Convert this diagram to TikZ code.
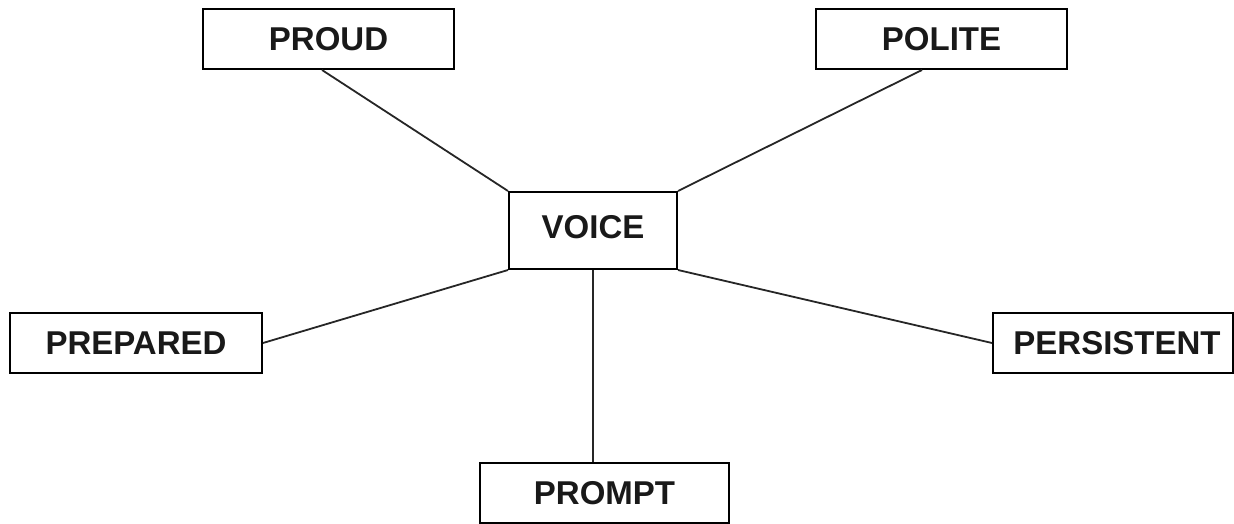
\documentclass[tikz,border=0pt]{standalone}
\usepackage{fontspec}
\setmainfont{Liberation Sans}
\begin{document}
\begin{tikzpicture}[x=1pt,y=-1pt,
  wbox/.style={draw=black, line width=2pt, rectangle, inner sep=0pt, minimum height=60pt,
    font=\fontsize{33}{36}\selectfont\bfseries, text=black!90},
  link/.style={draw=black!85, line width=1.8pt}]
\useasboundingbox (0,0) rectangle (1234,524);
\node[wbox, minimum width=251pt] (proud) at (328.5,39) {PROUD};
\node[wbox, minimum width=251pt] (polite) at (941.5,39) {POLITE};
\node[wbox, minimum width=168pt, minimum height=77pt] (voice) at (593,230.5) {\raisebox{7pt}{VOICE}};
\node[wbox, minimum width=252pt] (prepared) at (136,343) {PREPARED};
\node[wbox, minimum width=240pt] (persistent) at (1113,343) {\hspace*{8pt}PERSISTENT};
\node[wbox, minimum width=249pt] (prompt) at (604.5,493) {PROMPT};
\draw[link] ([xshift=-6.5pt]proud.south) -- (voice.north west);
\draw[link] ([xshift=-19.5pt]polite.south) -- (voice.north east);
\draw[link] (prepared.east) -- (voice.south west);
\draw[link] (persistent.west) -- (voice.south east);
\draw[link] (voice.south) -- (voice.south |- prompt.north);
\end{tikzpicture}
\end{document}
